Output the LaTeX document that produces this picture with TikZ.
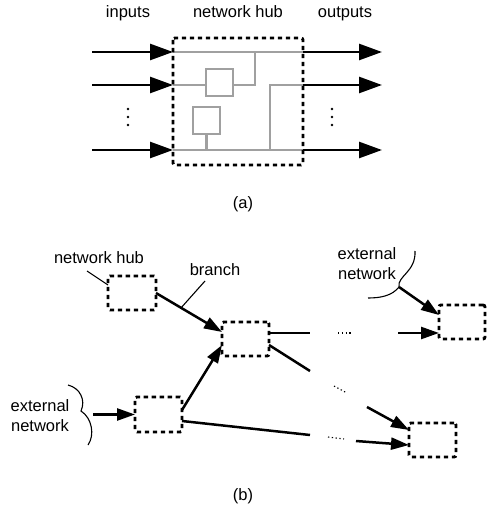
\documentclass[tikz,border=0pt]{standalone}
\usepackage{fontspec}
\setmainfont{Liberation Sans}
\usetikzlibrary{arrows.meta,calc}
\definecolor{grayline}{RGB}{160,160,160}
\begin{document}
\begin{tikzpicture}[x=1pt,y=-1pt,
  lbl/.style={font=\fontsize{16.5}{20}\selectfont, inner sep=0pt},
  hubbox/.style={draw, line width=2.9pt, dash pattern=on 4.3pt off 3.7pt, rounded corners=2pt, inner sep=0pt, outer sep=0pt},
  bigarrow/.style={line width=2.6pt, -{Triangle[length=23pt,width=16pt]}},
  arr/.style={line width=2.5pt, -{Triangle[length=18pt,width=12pt]}},
  plain/.style={line width=2.5pt},
  grayl/.style={line width=2.5pt, draw=grayline},
  graybox/.style={draw=grayline, line width=2.5pt, minimum size=27pt, inner sep=0pt, outer sep=0pt},
  leader/.style={line width=1.1pt},
  dotsline/.style={line width=1.1pt, dash pattern=on 1.3pt off 2.5pt},
]
\useasboundingbox (0,0) rectangle (486,510);

% ---------- (a) ----------
\node[lbl, anchor=base] (tin) at (128,18) {inputs};
\node[lbl, anchor=base] (thub) at (238,18) {network hub};
\node[lbl, anchor=base] (tout) at (345,18) {outputs};

\node[minimum width=130pt, minimum height=127pt, inner sep=0pt, outer sep=0pt] (hub) at (238,101.5) {};
\coordinate (i1) at (92,52);
\coordinate (i2) at (92,85);
\coordinate (i3) at (92,150);
\coordinate (o1) at (382,52);
\coordinate (o2) at (382,85);
\coordinate (o3) at (382,150);

\node[graybox] (g1) at (219.5,82.5) {};
\node[graybox] (g2) at (206.5,120.5) {};
\coordinate (v1) at (255,85);
\coordinate (v2) at (270,85);

\draw[grayl] (hub.west |- i1) -- (hub.east |- i1);
\draw[grayl] (hub.west |- i2) -- (g1.west |- i2);
\draw[grayl] (g1.east |- i2) -- (v1) -- (v1 |- i1);
\draw[grayl] (hub.east |- i2) -- (v2) -- (v2 |- i3);
\draw[grayl] (hub.west |- i3) -- (hub.east |- i3);
\draw[grayl] (g2.south) -- (g2.south |- i3);

\draw[hubbox] (hub.north west) rectangle (hub.south east);

\draw[bigarrow] (i1) -- (i1 -| hub.west);
\draw[bigarrow] (i2) -- (i2 -| hub.west);
\draw[bigarrow] (i3) -- (i3 -| hub.west);
\draw[bigarrow] (o1 -| hub.east) -- (o1);
\draw[bigarrow] (o2 -| hub.east) -- (o2);
\draw[bigarrow] (o3 -| hub.east) -- (o3);

\foreach \yy in {109,117,125} {
  \fill (128,\yy) circle (1.3pt);
  \fill (332,\yy) circle (1.3pt);
}

\node[lbl, anchor=base] (ta) at (243,209) {(a)};

% ---------- (b) ----------
\node[hubbox, minimum width=48pt, minimum height=34pt] (A) at (132,293) {};
\node[hubbox, minimum width=47pt, minimum height=34pt] (B) at (245.5,339) {};
\node[hubbox, minimum width=47pt, minimum height=35pt] (C) at (158.5,414.5) {};
\node[hubbox, minimum width=47pt, minimum height=34pt] (D) at (432.5,440) {};
\node[hubbox, minimum width=46pt, minimum height=34pt] (E) at (462,322) {};

\node[lbl, anchor=base] (tnh) at (99,263) {network hub};
\node[lbl, anchor=base] (tbr) at (215,275) {branch};
\node[lbl, align=center] (ext1) at (40,416) {external\\network};
\node[lbl, align=center] (ext2) at (367,264) {external\\network};

\coordinate (Bin1) at ([yshift=7pt]B.west);
\draw[arr] (A.east) -- (Bin1);
\draw[arr] ([yshift=4.5pt]C.east) -- ([yshift=-6pt]B.west);

\coordinate (extL) at (93,414.5);
\draw[arr] (extL) -- (C.west);

\coordinate (c1) at (310,435);
\coordinate (c2) at (328,437);
\coordinate (c3) at (344,439);
\coordinate (c4) at (356,441);
\draw[plain] ([yshift=-6.5pt]C.east) -- (c1);
\draw[dotsline] (c2) -- (c3);
\draw[arr] (c4) -- ([yshift=-5pt]D.west);

\coordinate (b1) at (310,333);
\coordinate (b2) at (338,333);
\coordinate (b3) at (353,333);
\coordinate (b4) at (398,333);
\draw[plain] ([yshift=6pt]B.east) -- (b1);
\draw[dotsline] (b2) -- (b3);
\draw[arr] (b4) -- ([yshift=-11pt]E.west);

\coordinate (d1) at (310,371);
\coordinate (d2) at (334,386);
\coordinate (d3) at (347,393);
\coordinate (d4) at (367,407);
\draw[plain] ([yshift=-6pt]B.east) -- (d1);
\draw[dotsline] (d2) -- (d3);
\draw[arr] (d4) -- ([yshift=10pt]D.west);

% braces
\coordinate (cuspL) at (81,411);
\draw[leader] (68,385) .. controls (80,388) and (86,400) .. (cuspL) .. controls (92,418) and (95,435) .. (88,445);
\coordinate (cuspR) at (399,287);
\draw[leader] (415,251) .. controls (416,272) and (397,276) .. (cuspR) .. controls (392,296) and (380,298) .. (368,298);
\draw[arr] (cuspR) -- ([yshift=7pt]E.west);

% leaders
\coordinate (lA) at (87,271);
\draw[leader] (lA) -- ([yshift=-9pt]A.north west);
\coordinate (lB) at (205,281);
\draw[leader] (lB) -- ($(A.east)!0.38!(Bin1)$);

\node[lbl, anchor=base] (tb) at (243,500) {(b)};
\end{tikzpicture}
\end{document}
